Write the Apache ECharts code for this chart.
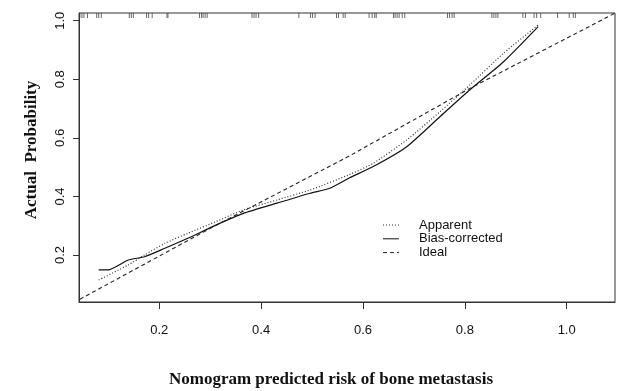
<!DOCTYPE html>
<html>
<head>
<meta charset="utf-8">
<script src="https://cdn.jsdelivr.net/npm/echarts@6/dist/echarts.min.js"></script>
<style>
  html, body { margin: 0; background: #fff; }
  #chart { width: 619px; height: 391px; }
</style>
</head>
<body>
<div id="chart"></div>
<script>
/* ---------------------------------- Data ---------------------------------- */
const tickValues = [0.2, 0.4, 0.6, 0.8, 1.0];
const legendNames = ['Apparent', 'Bias-corrected', 'Ideal'];

// [predicted, actual]
const apparent = [
  [0.081, 0.115], [0.139, 0.166], [0.171, 0.200], [0.211, 0.240], [0.256, 0.274],
  [0.311, 0.314], [0.365, 0.354], [0.431, 0.388], [0.496, 0.422], [0.571, 0.473],
  [0.620, 0.513], [0.686, 0.593], [0.751, 0.689], [0.810, 0.781], [0.876, 0.889],
  [0.944, 0.985]
];

const biasCorrected = [
  [0.081, 0.149], [0.099, 0.149], [0.139, 0.183], [0.171, 0.194], [0.211, 0.223],
  [0.256, 0.257], [0.311, 0.302], [0.365, 0.342], [0.431, 0.377], [0.496, 0.411],
  [0.535, 0.428], [0.573, 0.463], [0.620, 0.502], [0.686, 0.570], [0.751, 0.672],
  [0.810, 0.764], [0.876, 0.860], [0.944, 0.980]
];

const ideal = [
  [0.044, 0.049], [0.300, 0.291], [0.571, 0.536], [0.810, 0.769], [1.094, 1.025]
];

// rug of predicted risks along the top border
const rug = [
  0.044, 0.048, 0.052, 0.059, 0.077, 0.081, 0.086, 0.141, 0.145, 0.149,
  0.175, 0.179, 0.186, 0.215, 0.217, 0.279, 0.283, 0.286, 0.290, 0.294,
  0.382, 0.386, 0.390, 0.395, 0.474, 0.497, 0.501, 0.506, 0.548, 0.552,
  0.561, 0.565, 0.612, 0.618, 0.623, 0.626, 0.660, 0.663, 0.667, 0.671,
  0.677, 0.682, 0.766, 0.770, 0.775, 0.779, 0.853, 0.857, 0.861, 0.865,
  0.914, 0.919, 0.936, 0.941, 0.949, 0.982, 1.005, 1.013, 1.017
];

/* --------------------------------- Chart ---------------------------------- */
const X_MIN = 0.0423, X_MAX = 1.0949;
const Y_MIN = 0.0396, Y_MAX = 1.0263;
const SANS = '"Liberation Sans", Arial, sans-serif';
const SERIF = '"Liberation Serif", "Times New Roman", serif';

const styles = {
  'Apparent': { color: '#333', type: [1, 2], dash: [1, 2] },
  'Bias-corrected': { color: '#111', type: 'solid', dash: null },
  'Ideal': { color: '#222', type: [4, 3], dash: [4, 3] }
};

const chart = echarts.init(document.getElementById('chart'));

const axisCommon = {
  type: 'value',
  splitLine: { show: false },
  axisLine: { show: true, onZero: false, lineStyle: { color: '#333', width: 1 } },
  axisTick: {
    show: true, inside: false, length: 7,
    customValues: tickValues,
    lineStyle: { color: '#333', width: 1 }
  },
  axisLabel: {
    customValues: tickValues,
    formatter: v => v.toFixed(1),
    color: '#111',
    fontFamily: SANS,
    fontSize: 13
  }
};

// legend drawn as plain line samples + labels
const legendGraphics = [];
legendNames.forEach((name, i) => {
  const y = 225 + i * 13.8;
  legendGraphics.push({
    type: 'line',
    shape: { x1: 383, y1: y, x2: 399, y2: y },
    style: { stroke: styles[name].color, lineWidth: 1, lineDash: styles[name].dash }
  });
  legendGraphics.push({
    type: 'text', x: 419, y: y,
    style: {
      text: name, font: '13px ' + SANS, fill: '#111',
      textAlign: 'left', textVerticalAlign: 'middle'
    }
  });
});

chart.setOption({
  animation: false,
  backgroundColor: '#fff',
  grid: {
    left: 79, right: 4, top: 13, bottom: 89,
    show: true, borderColor: '#333', borderWidth: 1,
    outerBoundsMode: 'none'
  },
  xAxis: echarts.util.merge({
    min: X_MIN, max: X_MAX,
    axisLabel: { margin: 22 }
  }, axisCommon),
  yAxis: echarts.util.merge({
    min: Y_MIN, max: Y_MAX,
    axisTick: { length: 6 },
    axisLabel: { margin: 12, rotate: 90 }
  }, axisCommon),
  graphic: [
    {
      type: 'text', x: 331, y: 380,
      style: {
        text: 'Nomogram predicted risk of bone metastasis',
        font: 'bold 17px ' + SERIF, fill: '#111',
        textAlign: 'center', textVerticalAlign: 'middle'
      }
    },
    {
      type: 'text', x: 32, y: 150, rotation: Math.PI / 2,
      style: {
        text: 'Actual  Probability',
        font: 'bold 17px ' + SERIF, fill: '#111',
        textAlign: 'center', textVerticalAlign: 'middle'
      }
    }
  ].concat(legendGraphics),
  series: [
    {
      name: 'Apparent', type: 'line', data: apparent,
      symbol: 'none', smooth: 0.2,
      lineStyle: { color: styles['Apparent'].color, width: 1.2, type: styles['Apparent'].type }
    },
    {
      name: 'Bias-corrected', type: 'line', data: biasCorrected,
      symbol: 'none', smooth: 0.2,
      lineStyle: { color: styles['Bias-corrected'].color, width: 1.2, type: 'solid' }
    },
    {
      name: 'Ideal', type: 'line', data: ideal,
      symbol: 'none',
      lineStyle: { color: styles['Ideal'].color, width: 1.1, type: styles['Ideal'].type }
    },
    {
      name: 'rug', type: 'scatter', silent: true, clip: false,
      data: rug.map(x => [x, Y_MAX]),
      symbol: 'rect', symbolSize: [1, 5], symbolOffset: [0, 2.5],
      itemStyle: { color: '#444' }
    }
  ]
});
</script>
</body>
</html>
